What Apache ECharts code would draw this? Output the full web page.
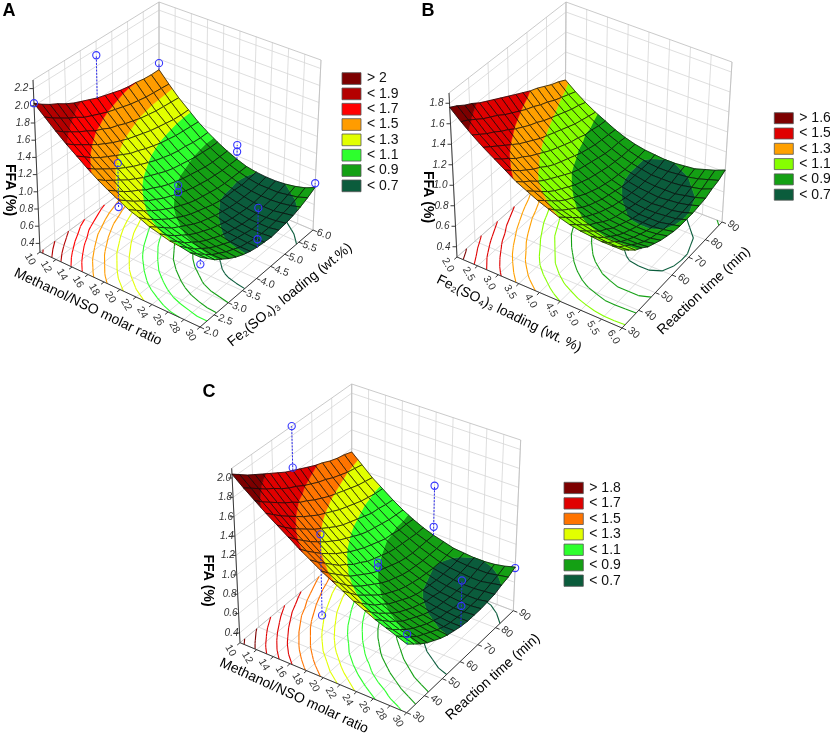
<!DOCTYPE html>
<html><head><meta charset="utf-8">
<script src="https://cdn.jsdelivr.net/npm/echarts@6/dist/echarts.min.js"></script>
<style>html,body{margin:0;padding:0;background:#fff}#c{width:830px;height:735px}</style>
</head><body><div id="c"></div>
<script>
// ================= DATA =================
const methanolNodes = [10,11.25,12.5,13.75,15,16.25,17.5,18.75,20,21.25,22.5,23.75,25,26.25,27.5,28.75,30];
const feNodes = [2,2.25,2.5,2.75,3,3.25,3.5,3.75,4,4.25,4.5,4.75,5,5.25,5.5,5.75,6];
const timeNodes = [30,33.75,37.5,41.25,45,48.75,52.5,56.25,60,63.75,67.5,71.25,75,78.75,82.5,86.25,90];

// Panel A: FFA (%) ; rows = Fe2(SO4)3 loading nodes, columns = methanol/NSO ratio nodes
const ffaA = [
[2.03,1.92,1.81,1.71,1.62,1.53,1.45,1.38,1.32,1.26,1.22,1.17,1.14,1.11,1.10,1.08,1.08],
[1.96,1.85,1.74,1.64,1.55,1.46,1.38,1.31,1.25,1.19,1.14,1.10,1.06,1.04,1.02,1.00,1.00],
[1.90,1.79,1.68,1.58,1.48,1.40,1.32,1.24,1.18,1.12,1.07,1.03,0.99,0.96,0.94,0.93,0.92],
[1.85,1.73,1.62,1.52,1.42,1.34,1.26,1.18,1.12,1.06,1.01,0.96,0.93,0.90,0.88,0.86,0.86],
[1.79,1.68,1.57,1.46,1.37,1.28,1.20,1.13,1.06,1.00,0.95,0.91,0.87,0.84,0.82,0.81,0.80],
[1.74,1.62,1.51,1.41,1.32,1.23,1.15,1.07,1.01,0.95,0.90,0.86,0.82,0.79,0.77,0.76,0.75],
[1.70,1.58,1.47,1.36,1.27,1.18,1.10,1.03,0.96,0.90,0.85,0.81,0.78,0.75,0.73,0.72,0.71],
[1.66,1.54,1.42,1.32,1.22,1.14,1.06,0.98,0.92,0.86,0.81,0.77,0.74,0.71,0.69,0.68,0.68],
[1.62,1.50,1.39,1.28,1.19,1.10,1.02,0.94,0.88,0.82,0.78,0.74,0.71,0.68,0.67,0.66,0.66],
[1.59,1.47,1.35,1.25,1.15,1.06,0.98,0.91,0.85,0.79,0.75,0.71,0.68,0.66,0.65,0.64,0.65],
[1.56,1.44,1.32,1.22,1.12,1.03,0.95,0.88,0.82,0.77,0.72,0.69,0.66,0.64,0.63,0.63,0.64],
[1.53,1.41,1.29,1.19,1.09,1.00,0.93,0.86,0.80,0.75,0.70,0.67,0.65,0.63,0.63,0.63,0.65],
[1.51,1.39,1.27,1.17,1.07,0.98,0.91,0.84,0.78,0.73,0.69,0.66,0.64,0.63,0.63,0.64,0.66],
[1.50,1.37,1.25,1.15,1.05,0.97,0.89,0.82,0.77,0.72,0.69,0.66,0.64,0.64,0.64,0.66,0.68],
[1.48,1.36,1.24,1.13,1.04,0.95,0.88,0.81,0.76,0.72,0.68,0.66,0.65,0.65,0.66,0.68,0.71],
[1.47,1.35,1.23,1.12,1.03,0.94,0.87,0.81,0.76,0.72,0.69,0.67,0.67,0.67,0.69,0.71,0.75],
[1.47,1.34,1.22,1.12,1.02,0.94,0.87,0.81,0.76,0.72,0.70,0.69,0.69,0.70,0.72,0.75,0.80]
];
// Panel B: rows = reaction time nodes, columns = Fe2(SO4)3 loading nodes
const ffaB = [
[1.76,1.66,1.57,1.49,1.42,1.35,1.28,1.23,1.18,1.14,1.10,1.07,1.05,1.04,1.03,1.03,1.03],
[1.72,1.62,1.52,1.44,1.36,1.29,1.22,1.17,1.12,1.07,1.04,1.01,0.99,0.97,0.96,0.96,0.97],
[1.67,1.57,1.47,1.39,1.31,1.23,1.17,1.11,1.06,1.01,0.98,0.95,0.93,0.91,0.91,0.91,0.91],
[1.63,1.52,1.43,1.34,1.25,1.18,1.11,1.05,1.00,0.96,0.92,0.89,0.87,0.86,0.85,0.86,0.87],
[1.58,1.48,1.38,1.29,1.21,1.13,1.06,1.00,0.95,0.91,0.87,0.85,0.83,0.81,0.81,0.81,0.82],
[1.54,1.44,1.34,1.24,1.16,1.09,1.02,0.96,0.91,0.86,0.83,0.80,0.78,0.77,0.77,0.77,0.79],
[1.50,1.39,1.29,1.20,1.12,1.04,0.98,0.92,0.87,0.82,0.79,0.76,0.75,0.74,0.74,0.74,0.76],
[1.46,1.35,1.25,1.16,1.08,1.00,0.94,0.88,0.83,0.79,0.76,0.73,0.72,0.71,0.71,0.72,0.74],
[1.42,1.31,1.21,1.12,1.04,0.97,0.90,0.85,0.80,0.76,0.73,0.71,0.69,0.69,0.69,0.70,0.72],
[1.38,1.27,1.18,1.09,1.01,0.94,0.87,0.82,0.77,0.74,0.71,0.69,0.67,0.67,0.67,0.69,0.71],
[1.34,1.24,1.14,1.06,0.98,0.91,0.85,0.80,0.75,0.72,0.69,0.67,0.66,0.66,0.67,0.68,0.71],
[1.30,1.20,1.11,1.03,0.95,0.88,0.83,0.78,0.73,0.70,0.68,0.66,0.65,0.66,0.66,0.68,0.71],
[1.27,1.17,1.08,1.00,0.93,0.86,0.81,0.76,0.72,0.69,0.67,0.66,0.65,0.66,0.67,0.69,0.72],
[1.23,1.13,1.05,0.97,0.90,0.84,0.79,0.75,0.71,0.69,0.67,0.66,0.66,0.66,0.68,0.70,0.73],
[1.19,1.10,1.02,0.95,0.89,0.83,0.78,0.74,0.71,0.69,0.67,0.67,0.67,0.68,0.70,0.72,0.76],
[1.16,1.07,1.00,0.93,0.87,0.82,0.78,0.74,0.71,0.69,0.68,0.68,0.69,0.70,0.72,0.75,0.78],
[1.12,1.04,0.97,0.91,0.86,0.81,0.77,0.74,0.72,0.71,0.70,0.70,0.71,0.72,0.75,0.78,0.82]
];
// Panel C: rows = reaction time nodes, columns = methanol/NSO ratio nodes
const ffaC = [
[2.04,1.94,1.85,1.76,1.68,1.60,1.52,1.45,1.38,1.32,1.26,1.20,1.15,1.10,1.06,1.02,0.98],
[1.98,1.88,1.78,1.69,1.60,1.52,1.44,1.37,1.30,1.24,1.18,1.12,1.07,1.03,0.98,0.95,0.92],
[1.92,1.82,1.72,1.62,1.53,1.45,1.37,1.30,1.23,1.16,1.10,1.05,1.00,0.96,0.92,0.89,0.86],
[1.87,1.76,1.66,1.56,1.47,1.38,1.30,1.23,1.16,1.09,1.04,0.98,0.94,0.90,0.86,0.83,0.81],
[1.82,1.71,1.60,1.50,1.41,1.32,1.24,1.16,1.09,1.03,0.98,0.93,0.88,0.84,0.81,0.79,0.77],
[1.77,1.65,1.55,1.44,1.35,1.26,1.18,1.11,1.04,0.98,0.92,0.87,0.83,0.80,0.77,0.75,0.73],
[1.72,1.60,1.49,1.39,1.30,1.21,1.13,1.05,0.99,0.93,0.87,0.83,0.79,0.76,0.73,0.71,0.70],
[1.67,1.56,1.45,1.34,1.25,1.16,1.08,1.01,0.94,0.88,0.83,0.79,0.75,0.72,0.70,0.68,0.68],
[1.63,1.51,1.40,1.30,1.20,1.12,1.04,0.96,0.90,0.84,0.79,0.75,0.72,0.69,0.67,0.66,0.66],
[1.59,1.47,1.36,1.26,1.16,1.08,1.00,0.93,0.87,0.81,0.76,0.72,0.69,0.67,0.66,0.65,0.65],
[1.55,1.43,1.32,1.22,1.13,1.04,0.97,0.90,0.84,0.78,0.74,0.70,0.68,0.66,0.64,0.64,0.65],
[1.51,1.40,1.29,1.19,1.10,1.01,0.94,0.87,0.81,0.76,0.72,0.69,0.66,0.65,0.64,0.64,0.65],
[1.48,1.36,1.26,1.16,1.07,0.99,0.91,0.85,0.79,0.75,0.71,0.68,0.66,0.65,0.64,0.64,0.66],
[1.44,1.33,1.23,1.13,1.04,0.97,0.90,0.84,0.78,0.74,0.70,0.68,0.66,0.65,0.65,0.66,0.67],
[1.41,1.30,1.20,1.11,1.03,0.95,0.88,0.83,0.78,0.74,0.70,0.68,0.67,0.66,0.66,0.68,0.70],
[1.39,1.28,1.18,1.09,1.01,0.94,0.88,0.82,0.78,0.74,0.71,0.69,0.68,0.68,0.68,0.70,0.72],
[1.36,1.26,1.16,1.08,1.00,0.93,0.87,0.82,0.78,0.75,0.72,0.71,0.70,0.70,0.71,0.73,0.76]
];

// tick values
const methanolTicks = [10,12,14,16,18,20,22,24,26,28,30];
const feTicks = [2.0,2.5,3.0,3.5,4.0,4.5,5.0,5.5,6.0];
const timeTicks = [30,40,50,60,70,80,90];
const ffaTicksA = [0.4,0.6,0.8,1.0,1.2,1.4,1.6,1.8,2.0,2.2];
const ffaTicksB = [0.4,0.6,0.8,1.0,1.2,1.4,1.6,1.8];
const ffaTicksC = [0.4,0.6,0.8,1.0,1.2,1.4,1.6,1.8,2.0];

// colour legends (top to bottom) and band limits (ascending)
const legendLabelsA = ['> 2','< 1.9','< 1.7','< 1.5','< 1.3','< 1.1','< 0.9','< 0.7'];
const legendColorsA = ['#7d0000','#b40000','#ff0000','#ff9c00','#e2ff00','#2dff2d','#14a014','#0b5c3c'];
const bandLimitsA = [0.7,0.9,1.1,1.3,1.5,1.7,2.0];
const legendLabelsB = ['> 1.6','< 1.5','< 1.3','< 1.1','< 0.9','< 0.7'];
const legendColorsB = ['#7d0000','#e00000','#ffa000','#86ff00','#14a014','#0b5c3c'];
const bandLimitsB = [0.7,0.9,1.1,1.3,1.6];
const legendLabelsC = ['> 1.8','< 1.7','< 1.5','< 1.3','< 1.1','< 0.9','< 0.7'];
const legendColorsC = ['#7d0000','#e00000','#ff7400','#e2ff00','#2dff2d','#14a014','#0b5c3c'];
const bandLimitsC = [0.7,0.9,1.1,1.3,1.5,1.8];

// contour levels drawn on the floor
const contourLevelsA = [0.7,0.8,0.9,1.0,1.1,1.2,1.3,1.4,1.5,1.6,1.7,1.8,1.9,2.0];
const contourLevelsB = [0.7,0.8,0.9,1.0,1.1,1.2,1.3,1.4,1.5,1.6,1.7];
const contourLevelsC = [0.7,0.8,0.9,1.0,1.1,1.2,1.3,1.4,1.5,1.6,1.7,1.8,1.9,2.0];

// observed design points: [x, y, observed FFA values...]
const pointsA = [[10,2,2.03],[10,4,2.13],[10,6,1.55],[20,2,1.74,1.24],[20,4,0.98,0.90],[20,6,0.93,0.85],[30,2,1.00],[30,4,1.11,0.75],[30,6,0.85]];
const pointsB = [];
const pointsC = [[10,60,2.10,1.66],[20,30,1.75,0.93],[20,60,0.99,0.94],[20,90,1.31,0.87],[30,90,0.75],[30,60,1.13,0.87],[30,30,1.08]];

// ================= RENDERING =================
const FONT = '"Liberation Sans", Arial, Helvetica, sans-serif';
const panels = [
 { grid: ffaA, uNodes: methanolNodes, vNodes: feNodes, uRange:[10,30], vRange:[2,6], zRange:[0.3,2.3],
   uTicks: methanolTicks, uFmt: t=>String(t), vTicks: feTicks, vFmt: t=>t.toFixed(1), zTicks: ffaTicksA,
   limits: bandLimitsA, colors: legendColorsA, legend: legendLabelsA, levels: contourLevelsA, points: pointsA,
   corners:{L0:[40,252],L1:[33,80],F0:[200,327],F1:[201,148],R0:[313,230],R1:[321,60],B0:[159,165],B1:[159,2]},
   uLabOff:0.085, vLabOff:0.07, zLabDx:-12, uLabRot:-60, vLabRot:-20,
   uTitle:['Methanol/NSO molar ratio',88,307,-25.5], vTitle:['Fe\u2082(SO\u2084)\u2083 loading (wt.%)',290,295,39], zTitle:['FFA (%)',10,190],
   letter:['A',9,11], leg:{x:342,y:72.7,dy:15.33,w:19,h:11.7} },
 { grid: ffaB, uNodes: feNodes, vNodes: timeNodes, uRange:[2,6], vRange:[30,90], zRange:[0.3,1.9],
   uTicks: feTicks, uFmt: t=>t.toFixed(1), vTicks: timeTicks, vFmt: t=>String(t), zTicks: ffaTicksB,
   limits: bandLimitsB, colors: legendColorsB, legend: legendLabelsB, levels: contourLevelsB, points: pointsB,
   corners:{L0:[457,257],L1:[449,93],F0:[622,328],F1:[623,157],R0:[722,222],R1:[732,62],B0:[565,162],B1:[566,2]},
   uLabOff:0.085, vLabOff:0.07, zLabDx:-13, uLabRot:-60, vLabRot:-40,
   uTitle:['Fe\u2082(SO\u2084)\u2083 loading (wt. %)',509,314,-26], vTitle:['Reaction time (min)',704,291,43], zTitle:['FFA (%)',428,197],
   letter:['B',428,11], leg:{x:774.3,y:112.7,dy:15.3,w:19,h:11} },
 { grid: ffaC, uNodes: methanolNodes, vNodes: timeNodes, uRange:[10,30], vRange:[30,90], zRange:[0.3,2.1],
   uTicks: methanolTicks, uFmt: t=>String(t), vTicks: timeTicks, vFmt: t=>String(t), zTicks: ffaTicksC,
   limits: bandLimitsC, colors: legendColorsC, legend: legendLabelsC, levels: contourLevelsC, points: pointsC,
   corners:{L0:[240,642.7],L1:[231.7,468.3],F0:[406.7,712.7],F1:[407.7,531.2],R0:[513.3,610.7],R1:[520.7,440],B0:[351.7,549.3],B1:[351.7,384]},
   uLabOff:0.085, vLabOff:0.07, zLabDx:-8, uLabRot:-60, vLabRot:-40,
   uTitle:['Methanol/NSO molar ratio',294,696,-24.7], vTitle:['Reaction time (min)',493,677,42], zTitle:['FFA (%)',207.5,580.5],
   letter:['C',209,392.5], leg:{x:564,y:482.3,dy:15.45,w:19.3,h:11.3} }
];

function bil(q,u,v){const a=(1-u)*(1-v),b=u*(1-v),c=u*v,d=(1-u)*v;
  return [a*q[0][0]+b*q[1][0]+c*q[2][0]+d*q[3][0], a*q[0][1]+b*q[1][1]+c*q[2][1]+d*q[3][1]];}
panels.forEach(p=>{
  const k=p.corners, lo=[k.L0,k.F0,k.R0,k.B0], hi=[k.L1,k.F1,k.R1,k.B1];
  p.P=(u,v,w)=>{const a=bil(lo,u,v),b=bil(hi,u,v);return [a[0]+(b[0]-a[0])*w,a[1]+(b[1]-a[1])*w];};
  p.nu=x=>(x-p.uRange[0])/(p.uRange[1]-p.uRange[0]);
  p.nv=x=>(x-p.vRange[0])/(p.vRange[1]-p.vRange[0]);
  p.nw=x=>(x-p.zRange[0])/(p.zRange[1]-p.zRange[0]);
  p.U=p.uNodes.map(p.nu); p.V=p.vNodes.map(p.nv);
  p.bandOf=z=>{let b=0;while(b<p.limits.length&&z>=p.limits[b])b++;return b;};
  p.colorOfBand=b=>p.colors[p.colors.length-1-b];
});

const GRID={stroke:'#d6d6d6',lineWidth:0.8};
const EDGE={stroke:'#bcbcbc',lineWidth:0.8};
const AXIS={stroke:'#3a3a3a',lineWidth:1};
function seg(a,b,style){return {type:'line',shape:{x1:a[0],y1:a[1],x2:b[0],y2:b[1]},style:style};}
function txt(s,x,y,rot,size,extra){return {type:'text',x:x,y:y,rotation:rot*Math.PI/180,
  style:Object.assign({text:s,fill:'#222',fontSize:size,fontFamily:FONT,align:'center',verticalAlign:'middle'},extra||{})};}

function contours(p,ch){
  const g=p.grid,U=p.U,V=p.V;
  p.levels.forEach(L=>{
    const col=p.colorOfBand(p.bandOf(L-0.05)), st={stroke:col,lineWidth:1.1};
    for(let j=0;j<V.length-1;j++)for(let i=0;i<U.length-1;i++){
      const c=[[U[i],V[j],g[j][i]],[U[i+1],V[j],g[j][i+1]],[U[i+1],V[j+1],g[j+1][i+1]],[U[i],V[j+1],g[j+1][i]]];
      const pts=[];
      for(let e=0;e<4;e++){const a=c[e],b=c[(e+1)%4];
        if((a[2]<L)!==(b[2]<L)){const s=(L-a[2])/(b[2]-a[2]);pts.push([a[0]+(b[0]-a[0])*s,a[1]+(b[1]-a[1])*s]);}}
      for(let q=0;q+1<pts.length;q+=2) ch.push(seg(p.P(pts[q][0],pts[q][1],0),p.P(pts[q+1][0],pts[q+1][1],0),st));
    }
  });
}

function backItems(p){
  const P=p.P,ch=[];
  p.uTicks.forEach(t=>{const u=p.nu(t);ch.push(seg(P(u,0,0),P(u,1,0),GRID),seg(P(u,1,0),P(u,1,1),GRID));});
  p.vTicks.forEach(t=>{const v=p.nv(t);ch.push(seg(P(0,v,0),P(1,v,0),GRID),seg(P(0,v,0),P(0,v,1),GRID));});
  p.zTicks.forEach(t=>{const w=p.nw(t);ch.push(seg(P(0,0,w),P(0,1,w),GRID),seg(P(0,1,w),P(1,1,w),GRID));});
  [[[0,0,1],[0,1,1]],[[0,1,1],[1,1,1]],[[0,1,0],[0,1,1]],[[1,1,0],[1,1,1]],[[0,0,0],[0,1,0]],[[0,1,0],[1,1,0]]]
    .forEach(e=>ch.push(seg(P(e[0][0],e[0][1],e[0][2]),P(e[1][0],e[1][1],e[1][2]),EDGE)));
  contours(p,ch);
  ch.push(seg(P(0,0,0),P(1,0,0),AXIS),seg(P(1,0,0),P(1,1,0),AXIS),seg(P(0,0,0),P(0,0,1),AXIS));
  p.uTicks.forEach(t=>{const u=p.nu(t);ch.push(seg(P(u,0,0),P(u,-0.025,0),AXIS));});
  p.vTicks.forEach(t=>{const v=p.nv(t);ch.push(seg(P(1,v,0),P(1.025,v,0),AXIS));});
  p.zTicks.forEach(t=>{const c=P(0,0,p.nw(t));ch.push(seg(c,[c[0]-4,c[1]],AXIS));});
  return {type:'group',children:ch};
}

function clip(poly,t,keepAbove){
  const out=[];
  for(let k=0;k<poly.length;k++){
    const a=poly[k],b=poly[(k+1)%poly.length];
    const ia=keepAbove?a.z>=t:a.z<=t, ib=keepAbove?b.z>=t:b.z<=t;
    if(ia)out.push(a);
    if(ia!==ib){const s=(t-a.z)/(b.z-a.z);out.push({u:a.u+(b.u-a.u)*s,v:a.v+(b.v-a.v)*s,z:t});}
  }
  return out;
}
function cellItem(p,i,j){
  const g=p.grid,U=p.U,V=p.V;
  const poly=[{u:U[i],v:V[j],z:g[j][i]},{u:U[i+1],v:V[j],z:g[j][i+1]},{u:U[i+1],v:V[j+1],z:g[j+1][i+1]},{u:U[i],v:V[j+1],z:g[j+1][i]}];
  const proj=q=>p.P(q.u,q.v,p.nw(q.z));
  const ch=[],lims=p.limits;
  for(let b=0;b<=lims.length;b++){
    let piece=poly;
    if(b>0)piece=clip(piece,lims[b-1],true);
    if(b<lims.length&&piece.length)piece=clip(piece,lims[b],false);
    if(piece.length>=3){const col=p.colorOfBand(b);
      ch.push({type:'polygon',shape:{points:piece.map(proj)},style:{fill:col,stroke:col,lineWidth:0.5}});}
  }
  ch.push({type:'polygon',shape:{points:poly.map(proj)},style:{fill:'none',stroke:'rgba(10,10,10,0.9)',lineWidth:0.8}});
  return {type:'group',children:ch};
}

function pointItems(p,above){
  const P=p.P,ch=[],line={stroke:'#2b2bef',lineWidth:1,lineDash:[2,1.3]};
  p.points.forEach(pt=>{
    const x=pt[0],y=pt[1],obs=pt.slice(2);
    const i=p.uNodes.indexOf(x),j=p.vNodes.indexOf(y),pred=p.grid[j][i];
    const u=p.nu(x),v=p.nv(y),hi=Math.max.apply(null,obs),lo=Math.min.apply(null,obs);
    if(above&&hi>pred)ch.push(seg(P(u,v,p.nw(pred)),P(u,v,p.nw(hi)),line));
    if(!above&&lo<pred)ch.push(seg(P(u,v,p.nw(lo)),P(u,v,p.nw(pred)),line));
    obs.forEach(z=>{if((z>=pred-0.005)===above){const c=P(u,v,p.nw(z));
      ch.push({type:'circle',shape:{cx:c[0],cy:c[1],r:3.6},style:{fill:'none',stroke:'#3636ff',lineWidth:1.1}});}});
  });
  return {type:'group',children:ch};
}

function labelItems(p){
  const P=p.P,ch=[];
  p.uTicks.forEach(t=>{const c=P(p.nu(t),-p.uLabOff,0);ch.push(txt(p.uFmt(t),c[0],c[1],p.uLabRot,10.5,{fill:'#333'}));});
  p.vTicks.forEach(t=>{const c=P(1+p.vLabOff,p.nv(t),0);ch.push(txt(p.vFmt(t),c[0],c[1],p.vLabRot,10.5,{fill:'#333'}));});
  p.zTicks.forEach(t=>{const c=P(0,0,p.nw(t));ch.push(txt(t.toFixed(1),c[0]+p.zLabDx,c[1],0,10,{fontStyle:'italic',fill:'#333'}));});
  ch.push(txt(p.uTitle[0],p.uTitle[1],p.uTitle[2],p.uTitle[3],14,{fill:'#000'}));
  ch.push(txt(p.vTitle[0],p.vTitle[1],p.vTitle[2],p.vTitle[3],14,{fill:'#000'}));
  ch.push(txt(p.zTitle[0],p.zTitle[1],p.zTitle[2],-90,14,{fill:'#000',fontWeight:'bold'}));
  ch.push(txt(p.letter[0],p.letter[1],p.letter[2],0,18,{fill:'#000',fontWeight:'bold'}));
  const L=p.leg;
  p.legend.forEach((s,k)=>{
    const y=L.y+k*L.dy;
    ch.push({type:'rect',shape:{x:L.x,y:y,width:L.w,height:L.h},style:{fill:p.colors[k],stroke:'#555',lineWidth:0.8}});
    ch.push({type:'text',x:L.x+L.w+6,y:y+L.h/2,style:{text:s,fill:'#111',fontSize:14,fontFamily:FONT,align:'left',verticalAlign:'middle'}});
  });
  return {type:'group',children:ch};
}

const series=[];
panels.forEach(p=>{
  const base={type:'custom',coordinateSystem:'none',silent:true,animation:false};
  series.push(Object.assign({},base,{z:1,data:[0],renderItem:()=>backItems(p)}));
  series.push(Object.assign({},base,{z:2,data:[0],renderItem:()=>pointItems(p,false)}));
  const cells=[];
  for(let j=0;j<p.vNodes.length-1;j++)for(let i=0;i<p.uNodes.length-1;i++)cells.push([i,j]);
  cells.sort((a,b)=>(b[1]-b[0])-(a[1]-a[0]));
  series.push(Object.assign({},base,{z:3,data:cells,renderItem:(params,api)=>cellItem(p,api.value(0),api.value(1))}));
  series.push(Object.assign({},base,{z:4,data:[0],renderItem:()=>pointItems(p,true)}));
  series.push(Object.assign({},base,{z:5,data:[0],renderItem:()=>labelItems(p)}));
});
const chart=echarts.init(document.getElementById('c'));
chart.setOption({backgroundColor:'#fff',animation:false,series:series});
</script></body></html>
